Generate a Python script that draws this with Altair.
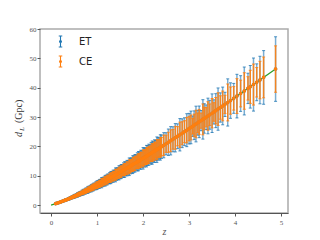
import altair as alt
import pandas as pd

# ---- data ----
z = [0.100,0.125,0.150,0.175,0.200,0.225,0.250,0.275,0.300,0.325,
     0.350,0.375,0.400,0.425,0.450,0.475,0.500,0.525,0.550,0.575,
     0.600,0.625,0.650,0.675,0.700,0.725,0.750,0.775,0.800,0.825,
     0.850,0.875,0.900,0.925,0.950,0.975,1.000,1.025,1.050,1.075,
     1.100,1.125,1.150,1.175,1.200,1.225,1.250,1.275,1.300,1.325,
     1.350,1.375,1.400,1.425,1.450,1.475,1.500,1.525,1.550,1.575,
     1.600,1.625,1.650,1.675,1.700,1.725,1.750,1.775,1.800,1.825,
     1.850,1.875,1.900,1.925,1.950,1.975,2.000,2.025,2.050,2.075,
     2.100,2.125,2.150,2.175,2.200,2.225,2.250,2.275,2.300,2.325,
     2.350,2.375,2.400,2.45,2.50,2.55,2.60,2.65,2.70,2.75,
     2.80,2.85,2.90,2.95,3.00,3.04,3.08,3.11,3.15,3.19,
     3.22,3.26,3.30,3.33,3.37,3.41,3.45,3.50,3.54,3.58,
     3.63,3.68,3.73,3.78,3.84,3.90,3.97,4.04,4.12,4.20,
     4.28,4.33,4.40,4.47,4.54,4.62,4.88]

dl = [0.48,0.61,0.74,0.88,1.01,1.16,1.31,1.45,1.60,1.76,
      1.92,2.08,2.24,2.41,2.58,2.75,2.92,3.10,3.28,3.46,
      3.64,3.82,4.01,4.20,4.39,4.58,4.77,4.97,5.16,5.36,
      5.56,5.77,5.97,6.17,6.38,6.59,6.79,7.00,7.22,7.43,
      7.64,7.86,8.07,8.29,8.51,8.73,8.95,9.17,9.39,9.61,
      9.84,10.06,10.29,10.51,10.74,10.97,11.20,11.43,11.66,11.89,
      12.12,12.36,12.59,12.83,13.06,13.30,13.53,13.77,14.01,14.25,
      14.49,14.73,14.97,15.21,15.45,15.69,15.93,16.18,16.42,16.67,
      16.91,17.16,17.40,17.65,17.90,18.15,18.39,18.64,18.89,19.14,
      19.39,19.64,19.89,20.39,20.90,21.41,21.91,22.42,22.94,23.45,
      23.96,24.48,25.00,25.52,26.04,26.46,26.88,27.20,27.62,28.04,
      28.36,28.78,29.20,29.52,29.94,30.36,30.78,31.31,31.74,32.17,
      32.71,33.25,33.78,34.32,34.97,35.61,36.37,37.13,38.01,38.88,
      39.76,40.30,41.07,41.84,42.61,43.50,46.35]

et_err = [0.11,0.12,0.16,0.16,0.23,0.23,0.25,0.32,0.32,0.37,
          0.35,0.44,0.49,0.46,0.54,0.50,0.67,0.62,0.62,0.76,
          0.73,0.80,0.72,0.88,0.97,0.87,1.00,0.89,1.19,1.07,
          1.06,1.27,1.19,1.30,1.15,1.38,1.49,1.33,1.52,1.34,
          1.76,1.57,1.53,1.82,1.70,1.83,1.61,1.93,2.07,1.83,
          2.07,1.81,2.37,2.10,2.04,2.41,2.24,2.40,2.10,2.50,
          2.67,2.35,2.64,2.31,3.00,2.66,2.57,3.03,2.80,2.99,
          2.61,3.09,3.29,2.89,3.24,2.82,3.66,3.24,3.12,3.67,
          3.38,3.60,3.13,3.71,3.94,3.45,3.86,3.36,4.34,3.83,
          3.68,4.32,3.98,4.28,3.76,4.50,4.82,4.26,4.82,4.22,
          5.51,4.90,4.75,5.61,5.21,5.56,3.49,4.90,6.08,4.21,
          5.39,3.45,6.72,5.02,4.19,6.07,4.92,6.58,4.13,5.79,
          7.20,4.99,6.42,4.12,8.04,6.05,5.09,7.43,6.08,8.16,
          5.17,7.25,9.04,6.28,8.10,9.14,11.00]

ce_err = [0.08,0.09,0.13,0.12,0.18,0.19,0.20,0.25,0.26,0.30,
          0.27,0.33,0.38,0.36,0.44,0.39,0.53,0.50,0.49,0.59,
          0.58,0.65,0.56,0.67,0.75,0.69,0.81,0.70,0.93,0.86,
          0.83,0.98,0.96,1.05,0.89,1.05,1.15,1.05,1.23,1.04,
          1.38,1.26,1.21,1.41,1.36,1.48,1.25,1.47,1.60,1.44,
          1.67,1.41,1.85,1.68,1.61,1.86,1.79,1.94,1.63,1.90,
          2.06,1.85,2.14,1.80,2.35,2.13,2.03,2.34,2.24,2.42,
          2.03,2.36,2.54,2.28,2.63,2.20,2.87,2.59,2.46,2.83,
          2.71,2.92,2.44,2.82,3.04,2.72,3.13,2.61,3.40,3.06,
          2.91,3.34,3.18,3.47,2.93,3.43,3.72,3.36,3.90,3.28,
          4.31,3.92,3.75,4.34,4.17,4.23,2.69,3.81,4.70,3.36,
          4.25,2.59,5.26,3.84,3.29,4.86,3.69,5.01,3.17,4.50,
          5.56,3.99,5.07,3.09,6.29,4.63,4.00,5.94,4.56,6.22,
          3.98,5.64,6.98,5.02,6.39,6.96,7.90]

model_z = [0.0,0.1,0.2,0.3,0.4,0.5,0.6,0.7,0.8,0.9,1.0,1.2,1.4,1.6,1.8,
           2.0,2.2,2.4,2.6,2.8,3.0,3.5,4.0,4.5,4.88]
model_dl = [0.0,0.48,1.01,1.60,2.24,2.92,3.64,4.39,5.16,5.97,6.79,8.51,10.29,
            12.12,14.01,15.93,17.90,19.89,21.91,23.96,26.04,31.31,36.69,42.17,46.35]

series = ["ET", "CE"]
colors = ["#1f77b4", "#ff7f0e"]
line_color = "#2ca02c"
x_ticks = [0, 1, 2, 3, 4, 5]
y_ticks = [0, 10, 20, 30, 40, 50, 60]
x_title = "z"
ylabel_parts = ["d", "L", "(Gpc)"]

# ---- tables ----
def build(name, errs):
    rows, caps = [], []
    for zi, d, e in zip(z, dl, errs):
        rows.append({"series": name, "z": zi, "dl": d, "lo": d - e, "hi": d + e})
        caps.append({"series": name, "z": zi, "cap": d - e})
        caps.append({"series": name, "z": zi, "cap": d + e})
    return pd.DataFrame(rows), pd.DataFrame(caps)

et_df, et_caps = build("ET", et_err)
ce_df, ce_caps = build("CE", ce_err)
model_df = pd.DataFrame({"z": model_z, "dl": model_dl})

serif = "Liberation Serif"
xscale = alt.Scale(domain=[-0.24, 5.15], nice=False, zero=False)
yscale = alt.Scale(domain=[-2.7, 60], nice=False, zero=False)
xaxis = alt.Axis(values=x_ticks, title=x_title, grid=False, labelFont=serif,
                 labelFontSize=7, labelColor="#555", tickColor="#555", tickSize=3,
                 labelPadding=2, domainColor="#555", domainWidth=1,
                 titleFont=serif, titleFontStyle="italic", titleFontWeight="normal",
                 titleFontSize=10, titleColor="#555", titlePadding=1)
yaxis = alt.Axis(values=y_ticks, title=None, grid=False, labelFont=serif,
                 labelFontSize=7, labelColor="#555", tickColor="#555", tickSize=3,
                 labelPadding=1, domain=False)

X = alt.X("z:Q", scale=xscale, axis=xaxis)

color_enc = alt.Color(
    "series:N",
    scale=alt.Scale(domain=series, range=colors),
    legend=alt.Legend(
        title=None, orient="none", legendX=14, legendY=6,
        symbolType="M0,-1L0,1M-0.32,-1L0.32,-1M-0.32,1L0.32,1M0.18,0A0.18,0.18,0,1,1,-0.18,0A0.18,0.18,0,1,1,0.18,0",
        symbolSize=121, symbolStrokeWidth=1.1, symbolOpacity=1,
        labelFont="DejaVu Sans", labelFontSize=10, labelColor="#222",
        labelOffset=12, rowPadding=3, padding=0,
    ),
)

line = alt.Chart(model_df).mark_line(color=line_color, strokeWidth=1.3, clip=True).encode(
    x=X, y=alt.Y("dl:Q", scale=yscale, axis=yaxis))

def bars(df, col, op):
    return alt.Chart(df).mark_rule(color=col, strokeWidth=1.5, opacity=op, clip=True).encode(
        x=X, y=alt.Y("lo:Q", scale=yscale, axis=yaxis), y2="hi:Q")

def caps(df, col, op):
    return alt.Chart(df).mark_tick(color=col, orient="horizontal", size=3, thickness=1,
                                   opacity=op, clip=True).encode(
        x=X, y=alt.Y("cap:Q", scale=yscale, axis=yaxis))

def pts(df):
    return alt.Chart(df).mark_point(filled=False, size=4, strokeWidth=1.6, opacity=1, clip=True).encode(
        x=X, y=alt.Y("dl:Q", scale=yscale, axis=yaxis), color=color_enc)

def label(txt, x, y, size, style):
    return alt.Chart(pd.DataFrame({"t": [txt]})).mark_text(
        angle=270, align="left", baseline="middle", font=serif, fontSize=size,
        fontStyle=style, color="#333").encode(
        text="t:N", x=alt.value(x), y=alt.value(y))

chart = alt.layer(
    line,
    bars(et_df, colors[0], 0.6), caps(et_caps, colors[0], 0.8), pts(et_df),
    bars(ce_df, colors[1], 0.9), caps(ce_caps, colors[1], 0.85), pts(ce_df),
    label(ylabel_parts[0], -21, 108, 10, "italic"),
    label(ylabel_parts[1], -18, 102, 7, "italic"),
    label(ylabel_parts[2], -21, 94, 10, "normal"),
).properties(
    width=248, height=184,
    padding={"left": 32, "top": 21, "right": 20, "bottom": 26},
    autosize=alt.AutoSizeParams(type="none"),
).configure_view(stroke="#aaaaaa", strokeWidth=1.5)

chart.save("out.html", embed_options={"renderer": "svg", "actions": False})
